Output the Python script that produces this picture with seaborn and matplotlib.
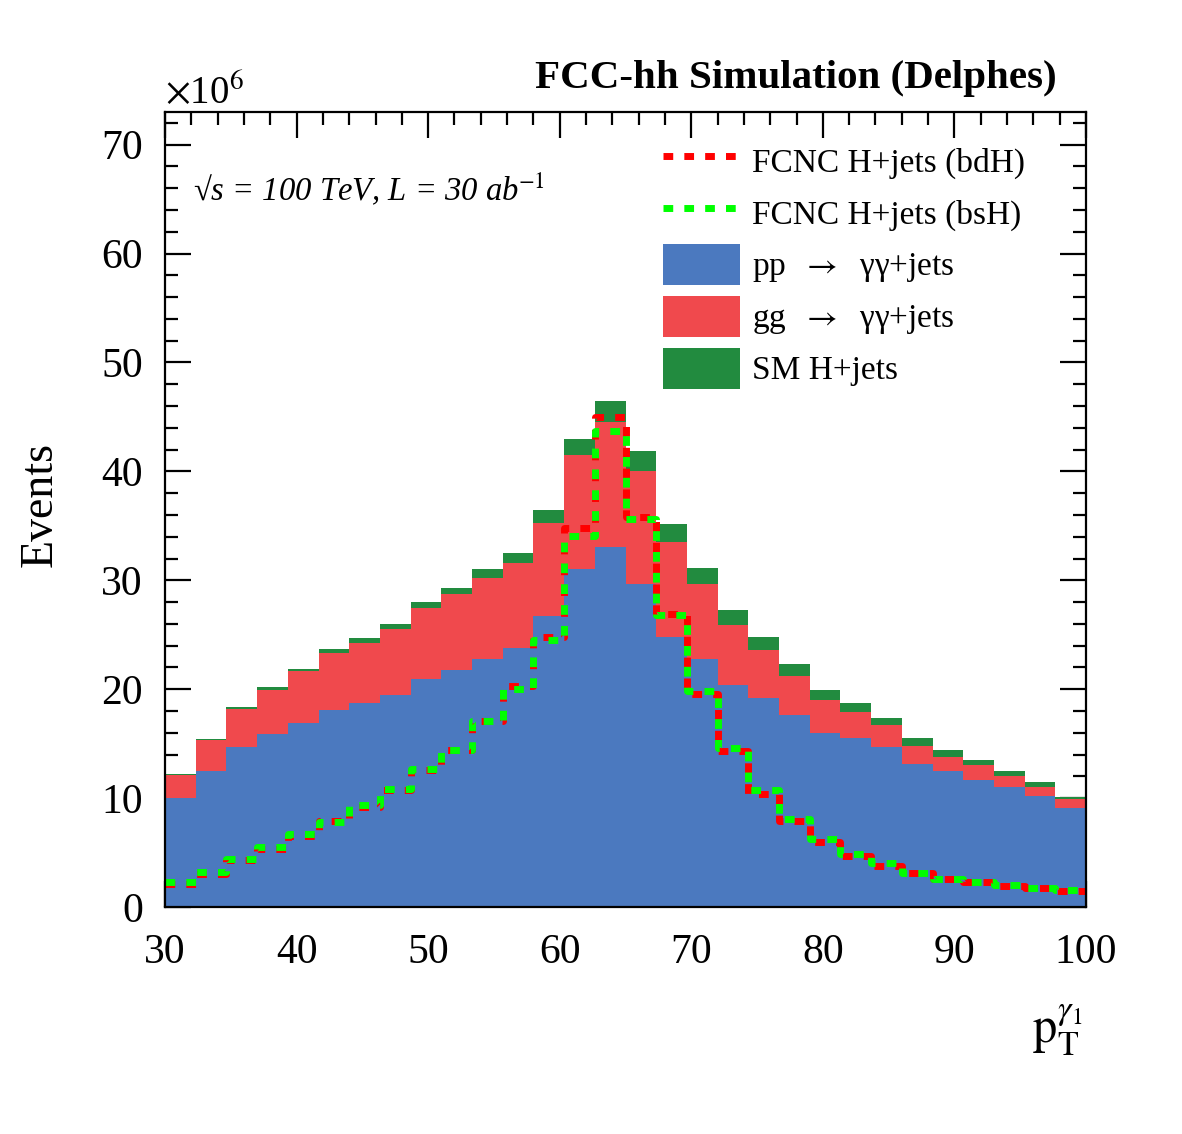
import numpy as np
import pandas as pd
import seaborn as sns
import matplotlib.pyplot as plt
from matplotlib.lines import Line2D
from matplotlib.patches import Patch
from matplotlib.ticker import MultipleLocator

# 30 bins of leading photon pT between 30 and 100
pt_edges = list(np.linspace(30, 100, 31))

# background yields per bin (x10^6 events)
pp_gamgam = [10.0, 12.5, 14.7, 15.9, 16.9, 18.1, 18.7, 19.5, 20.9, 21.8,
             22.8, 23.8, 26.7, 31.0, 33.1, 29.7, 24.8, 22.8, 20.4, 19.2,
             17.6, 15.95, 15.5, 14.7, 13.1, 12.5, 11.7, 11.0, 10.2, 9.1]
gg_gamgam = [2.1, 2.8, 3.5, 4.06, 4.8, 5.2, 5.55, 6.0, 6.6, 6.9,
             7.4, 7.75, 8.6, 10.5, 11.4, 10.3, 8.7, 6.9, 5.5, 4.4,
             3.65, 3.05, 2.4, 2.0, 1.7, 1.3, 1.3, 1.0, 0.8, 0.85]
sm_higgs = [0.1, 0.1, 0.2, 0.25, 0.2, 0.4, 0.45, 0.5, 0.5, 0.6,
            0.8, 0.95, 1.2, 1.5, 2.0, 1.9, 1.7, 1.4, 1.4, 1.2,
            1.05, 0.9, 0.8, 0.7, 0.7, 0.6, 0.5, 0.5, 0.5, 0.15]

# FCNC signal shapes
fcnc_bdh = [2.15, 3.0, 4.3, 5.3, 6.55, 7.9, 9.2, 10.7, 12.55, 14.45,
            17.1, 20.25, 24.8, 34.8, 45.0, 35.8, 26.9, 19.6, 14.3, 10.4,
            7.9, 6.0, 4.7, 3.8, 3.15, 2.6, 2.25, 1.9, 1.7, 1.45]
fcnc_bsh = [2.3, 3.2, 4.4, 5.5, 6.7, 7.8, 9.4, 10.8, 12.7, 14.45,
            17.1, 20.0, 24.5, 34.1, 43.7, 35.6, 26.8, 19.8, 14.6, 10.7,
            8.05, 6.2, 4.9, 4.0, 3.15, 2.6, 2.3, 2.0, 1.7, 1.55]

bkg_names = [r'pp  $\rightarrow$  γγ+jets', r'gg  $\rightarrow$  γγ+jets', 'SM H+jets']
bkg_colors = ['#4B79BF', '#F0494D', '#228B3F']

sns.set_style('ticks')
plt.rcParams['font.family'] = ['Liberation Serif', 'DejaVu Serif']
plt.rcParams['mathtext.fontset'] = 'stix'
plt.rcParams['text.color'] = 'black'
plt.rcParams['xtick.color'] = 'black'
plt.rcParams['ytick.color'] = 'black'

centers = [(a + b) / 2 for a, b in zip(pt_edges[:-1], pt_edges[1:])]
bkg = pd.concat([
    pd.DataFrame({'pt': centers, 'events': vals, 'process': name})
    for name, vals in zip(bkg_names, [pp_gamgam, gg_gamgam, sm_higgs])
], ignore_index=True)
sig = pd.DataFrame({'pt': centers, 'bdh': fcnc_bdh, 'bsh': fcnc_bsh})

W, H = 1182, 1134
fig = plt.figure(figsize=(W / 100, H / 100), dpi=100)
ax = fig.add_axes([165 / W, 1 - 907 / H, (1086 - 165) / W, (907 - 112) / H])

# seaborn stacks the last hue level at the bottom
sns.histplot(data=bkg, x='pt', weights='events', hue='process',
             hue_order=bkg_names[::-1], multiple='stack', bins=pt_edges,
             element='step', fill=True, alpha=1, linewidth=0,
             palette=dict(zip(bkg_names, bkg_colors)), legend=False, ax=ax)

dash = (0, (1.4, 1.6))
sns.histplot(data=sig, x='pt', weights='bdh', bins=pt_edges, element='step',
             fill=False, color='#FF0000', linewidth=5, linestyle=dash, ax=ax)
sns.histplot(data=sig, x='pt', weights='bsh', bins=pt_edges, element='step',
             fill=False, color='#00FF00', linewidth=5, linestyle=dash, ax=ax)

ax.set_xlim(30, 100)
ax.set_ylim(0, 73)
ax.set_xlabel('')
ax.set_ylabel('')
ax.xaxis.set_major_locator(MultipleLocator(10))
ax.xaxis.set_minor_locator(MultipleLocator(2))
ax.yaxis.set_major_locator(MultipleLocator(10))
ax.yaxis.set_minor_locator(MultipleLocator(2))
ax.tick_params(which='both', direction='in', top=True, right=True,
               width=1.6, color='black', labelcolor='black', labelsize=30)
ax.tick_params(axis='x', pad=19)
ax.tick_params(axis='y', pad=16)
ax.tick_params(which='major', length=19)
ax.tick_params(which='minor', length=9.5)
for s in ax.spines.values():
    s.set_linewidth(1.6)
    s.set_color('black')

def fx(px):
    return px / W

def fy(py):
    return 1 - py / H

fig.text(fx(1057), fy(88), 'FCC-hh Simulation (Delphes)', ha='right',
         va='baseline', fontsize=29.5, fontweight='bold')
fig.text(fx(165), fy(103), r'$\times$10$^{6}$', ha='left', va='baseline',
         fontsize=28)
fig.text(fx(193), fy(200), '\u221as = 100 TeV, L = 30 ab' + r'$^{\mathit{-1}}$',
         ha='left', va='baseline', fontsize=23.5, style='italic')
fig.text(fx(40), fy(505), 'Events', rotation=90, ha='center', va='center',
         fontsize=33)
fig.text(fx(1082), fy(1043), r'$\mathrm{p}_{\mathrm{T}}^{\gamma_{1}}$',
         ha='right', va='baseline', fontsize=35)

handles = [Line2D([], [], color='#FF0000', lw=5, ls=dash),
           Line2D([], [], color='#00FF00', lw=5, ls=dash)]
handles += [Patch(facecolor=c, edgecolor='none') for c in bkg_colors]
labels = ['FCNC H+jets (bdH)', 'FCNC H+jets (bsH)'] + bkg_names
fig.legend(handles, labels, loc='upper left', bbox_to_anchor=(fx(663), fy(140)),
           frameon=False, fontsize=24, handlelength=2.3, handleheight=1.5,
           labelspacing=0.34, handletextpad=0.36, borderpad=0, borderaxespad=0)

fig.savefig('out.png', dpi=100)
